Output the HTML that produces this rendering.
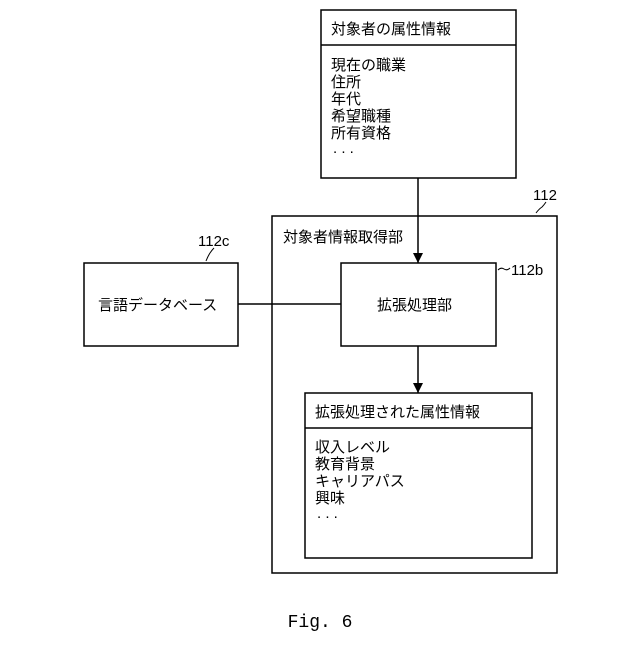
<!DOCTYPE html>
<html><head><meta charset="utf-8"><style>
body{margin:0;background:#fff;width:640px;height:640px;overflow:hidden}
svg text{font-family:"Liberation Sans","Noto Sans CJK JP",sans-serif;font-size:15px;fill:#000}
</style></head><body>
<svg width="640" height="640" viewBox="0 0 640 640" xmlns="http://www.w3.org/2000/svg">
<defs><marker id="a" markerWidth="12" markerHeight="12" refX="10" refY="5" orient="auto" markerUnits="userSpaceOnUse"><path d="M0,0 L10,5 L0,10 z" fill="#000"/></marker></defs>
<g fill="none" stroke="#000" stroke-width="1.5">
<rect x="321" y="10" width="195" height="168"/>
<line x1="321" y1="45" x2="516" y2="45"/>
<rect x="272" y="216" width="285" height="357"/>
<rect x="341" y="263" width="155" height="83"/>
<rect x="305" y="393" width="227" height="165"/>
<line x1="305" y1="428" x2="532" y2="428"/>
<rect x="84" y="263" width="154" height="83"/>
<line x1="238" y1="304" x2="341" y2="304"/>
<line x1="418" y1="178" x2="418" y2="263" marker-end="url(#a)"/>
<line x1="418" y1="346" x2="418" y2="393" marker-end="url(#a)"/>
<path d="M536,213 q3,-4 6,-6 q2,-2 4,-5" stroke-width="1"/>
<path d="M498,270 q3,-3 6,-1 q3,2 6,-1" stroke-width="1"/>
<path d="M206,261 q2,-5 4,-8 q2,-3 4,-5" stroke-width="1"/>
</g>
<text x="331" y="34">対象者の属性情報</text>
<text x="331" y="70">現在の職業</text>
<text x="331" y="87">住所</text>
<text x="331" y="104">年代</text>
<text x="331" y="121">希望職種</text>
<text x="331" y="138">所有資格</text>
<text x="333" y="153">. . .</text>
<text x="533" y="200">112</text>
<text x="283" y="242">対象者情報取得部</text>
<text x="377" y="310">拡張処理部</text>
<text x="511" y="275">112b</text>
<text x="198" y="246">112c</text>
<text x="98" y="310">言語データベース</text>
<text x="315" y="417">拡張処理された属性情報</text>
<text x="315" y="452">収入レベル</text>
<text x="315" y="469">教育背景</text>
<text x="315" y="486">キャリアパス</text>
<text x="315" y="503">興味</text>
<text x="317" y="518">. . .</text>
<text x="320" y="627" text-anchor="middle" style="font-family:'Liberation Mono',monospace;font-size:18px">Fig. 6</text>
</svg>
</body></html>
